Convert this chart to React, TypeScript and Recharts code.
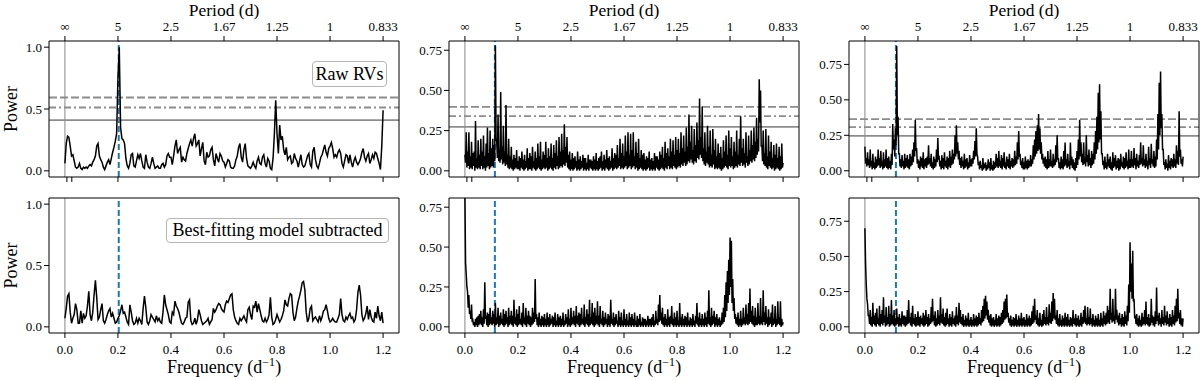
import { LineChart, Line, XAxis, YAxis, ReferenceLine } from 'recharts';

const FONT = "'Liberation Serif', 'DejaVu Serif', 'Times New Roman', serif";

// periodograms are read every 0.005 1/d from 0 to 1.2; the dense ones (middle and right)
// also get a trough value half a step after each sample
const STEP = 0.005;

// power (x100)
const rawA = [
  6, 22, 28, 27, 20, 12, 13, 8, 3, 2, 3, 6, 2, 1, 3, 2, 3, 2, 4, 5,
  4, 7, 9, 12, 20, 22, 12, 9, 7, 3, 1, 4, 7, 9, 5, 10, 15, 19, 24, 30,
  75, 100, 35, 26, 25, 22, 10, 4, 2, 6, 13, 14, 4, 3, 8, 13, 10, 14, 8, 3,
  2, 13, 7, 3, 2, 6, 11, 6, 2, 3, 4, 2, 2, 5, 6, 3, 5, 12, 14, 11,
  11, 5, 12, 20, 25, 14, 17, 19, 7, 11, 9, 8, 14, 18, 22, 25, 20, 26, 30, 20,
  22, 25, 12, 18, 23, 8, 5, 15, 11, 12, 17, 19, 9, 4, 14, 10, 7, 14, 12, 8,
  7, 3, 6, 9, 8, 3, 2, 2, 4, 9, 12, 19, 22, 11, 7, 17, 22, 10, 4, 3,
  2, 4, 7, 4, 2, 8, 11, 6, 5, 11, 13, 6, 3, 10, 8, 2, 1, 10, 30, 57,
  30, 14, 37, 25, 28, 17, 13, 19, 9, 11, 12, 6, 7, 14, 10, 8, 3, 8, 13, 5,
  3, 4, 8, 12, 14, 5, 3, 16, 19, 9, 4, 2, 6, 11, 13, 17, 21, 15, 12, 18,
  20, 23, 18, 11, 13, 11, 15, 17, 14, 6, 3, 8, 13, 12, 6, 13, 7, 3, 8, 11,
  7, 5, 7, 10, 15, 18, 11, 8, 12, 14, 6, 9, 13, 10, 15, 14, 10, 6, 1, 20,
  49,
];

const resA = [
  7, 15, 25, 27, 12, 3, 7, 10, 19, 14, 3, 3, 13, 3, 11, 7, 9, 17, 29, 10,
  5, 12, 26, 38, 24, 6, 8, 14, 19, 5, 3, 6, 10, 13, 15, 8, 11, 7, 3, 4,
  7, 9, 13, 18, 11, 12, 8, 4, 2, 18, 12, 5, 2, 3, 7, 3, 7, 5, 2, 15,
  25, 16, 4, 2, 5, 10, 8, 6, 4, 9, 5, 7, 4, 3, 12, 26, 18, 14, 10, 4,
  3, 12, 10, 21, 17, 15, 12, 7, 3, 2, 4, 7, 8, 20, 22, 5, 2, 3, 7, 2,
  6, 14, 10, 5, 2, 3, 4, 5, 7, 2, 4, 6, 15, 12, 14, 17, 19, 18, 15, 13,
  12, 18, 21, 20, 23, 26, 27, 14, 8, 5, 3, 2, 7, 5, 7, 9, 6, 4, 14, 16,
  10, 6, 17, 16, 21, 12, 19, 14, 9, 5, 4, 7, 4, 6, 10, 24, 8, 2, 3, 6,
  10, 7, 4, 6, 9, 13, 22, 18, 17, 23, 27, 26, 12, 5, 8, 15, 21, 25, 30, 36,
  37, 30, 12, 4, 7, 15, 17, 5, 7, 8, 6, 4, 9, 5, 8, 13, 14, 18, 13, 7,
  4, 5, 7, 5, 4, 4, 7, 10, 23, 10, 5, 4, 8, 6, 9, 11, 7, 8, 4, 6,
  14, 28, 34, 26, 10, 5, 7, 11, 17, 6, 14, 8, 5, 4, 12, 7, 17, 9, 5, 12,
  3,
];

const rawBHi = [
  10, 24, 12, 24, 9, 18, 11, 12, 31, 8, 19, 10, 20, 12, 22, 9, 17, 27, 11, 25,
  14, 20, 16, 78, 18, 35, 13, 49, 15, 28, 12, 41, 10, 20, 9, 15, 7, 10, 8, 13,
  6, 9, 8, 12, 7, 10, 6, 14, 8, 11, 9, 15, 6, 12, 8, 17, 9, 18, 7, 12,
  10, 18, 8, 14, 9, 17, 8, 16, 11, 19, 9, 21, 12, 23, 13, 29, 15, 21, 10, 12,
  7, 11, 8, 9, 6, 12, 7, 9, 6, 10, 8, 8, 5, 10, 7, 7, 6, 9, 7, 11,
  6, 8, 9, 12, 6, 10, 7, 13, 8, 9, 6, 14, 8, 11, 10, 16, 8, 20, 11, 17,
  9, 22, 12, 24, 10, 23, 13, 24, 9, 18, 11, 20, 8, 13, 10, 11, 7, 9, 8, 12,
  7, 8, 6, 11, 9, 9, 7, 12, 10, 15, 8, 18, 11, 14, 9, 20, 12, 19, 10, 21,
  13, 20, 11, 24, 14, 22, 12, 27, 15, 35, 18, 28, 13, 26, 16, 30, 19, 45, 21, 40,
  14, 24, 12, 28, 15, 25, 10, 26, 13, 20, 9, 17, 11, 15, 8, 19, 12, 22, 10, 25,
  14, 21, 9, 18, 12, 25, 10, 20, 34, 14, 20, 11, 24, 9, 22, 13, 25, 16, 27, 18,
  33, 20, 57, 50, 16, 25, 11, 26, 9, 22, 12, 18, 8, 16, 10, 17, 8, 15, 9, 17,
  5,
];
const rawBLo = [
  5, 2, 3, 1, 2, 1, 3, 0, 2, 1, 2, 1, 3, 1, 2, 0, 2, 3, 1, 2,
  3, 2, 6, 20, 8, 6, 5, 7, 4, 5, 3, 4, 2, 1, 2, 1, 0, 1, 2, 1,
  1, 0, 2, 1, 0, 1, 2, 0, 1, 1, 0, 2, 1, 0, 1, 2, 1, 0, 1, 2,
  1, 2, 0, 1, 2, 1, 0, 2, 1, 3, 1, 2, 3, 2, 4, 3, 5, 2, 1, 0,
  1, 0, 1, 2, 0, 1, 0, 1, 2, 0, 1, 0, 1, 0, 2, 1, 0, 1, 0, 1,
  0, 1, 2, 0, 1, 0, 2, 1, 0, 1, 2, 0, 1, 2, 1, 2, 3, 1, 2, 1,
  2, 3, 1, 2, 3, 1, 2, 3, 1, 2, 0, 1, 2, 1, 0, 1, 0, 1, 2, 0,
  1, 0, 1, 0, 2, 1, 0, 1, 2, 1, 0, 2, 1, 3, 1, 2, 1, 3, 2, 1,
  2, 3, 2, 4, 3, 5, 3, 4, 6, 5, 7, 5, 4, 6, 5, 8, 7, 10, 8, 6,
  4, 3, 5, 4, 2, 3, 2, 4, 1, 2, 1, 2, 1, 0, 1, 2, 3, 2, 1, 3,
  2, 3, 1, 2, 3, 2, 4, 3, 5, 3, 4, 2, 5, 3, 4, 6, 5, 7, 6, 8,
  10, 12, 30, 15, 6, 4, 3, 2, 1, 3, 2, 1, 2, 0, 1, 2, 1, 0, 1, 2,
];

const resBHi = [
  82, 33, 22, 20, 10, 14, 4, 3, 5, 6, 7, 8, 10, 6, 11, 28, 7, 9, 8, 12,
  6, 10, 8, 15, 6, 12, 7, 9, 5, 11, 8, 10, 6, 12, 7, 10, 7, 17, 6, 11,
  8, 13, 5, 9, 15, 6, 12, 7, 10, 7, 6, 12, 9, 30, 8, 6, 9, 5, 7, 6,
  8, 5, 9, 6, 8, 5, 7, 6, 9, 4, 8, 6, 7, 5, 9, 4, 8, 6, 11, 5,
  12, 6, 10, 7, 13, 7, 9, 8, 12, 5, 14, 6, 11, 8, 17, 6, 15, 9, 12, 7,
  16, 7, 13, 5, 10, 6, 9, 5, 8, 7, 17, 5, 9, 6, 8, 4, 10, 6, 9, 4,
  11, 5, 8, 4, 9, 6, 8, 5, 9, 4, 7, 5, 8, 3, 6, 5, 5, 4, 7, 5,
  5, 6, 8, 4, 10, 5, 14, 20, 9, 12, 6, 8, 5, 11, 6, 7, 13, 5, 9, 6,
  10, 4, 15, 6, 8, 5, 7, 6, 9, 4, 6, 5, 8, 4, 7, 15, 6, 9, 5, 8,
  5, 9, 6, 10, 23, 6, 12, 7, 10, 6, 8, 5, 6, 4, 9, 12, 20, 28, 35, 42,
  56, 54, 30, 18, 8, 6, 9, 5, 10, 5, 12, 6, 14, 8, 15, 24, 10, 13, 7, 12,
  6, 15, 7, 18, 6, 23, 9, 13, 6, 11, 6, 9, 14, 5, 13, 5, 16, 6, 16, 5,
  3,
];
const resBLo = [
  40, 25, 12, 8, 5, 3, 1, 0, 1, 0, 1, 2, 1, 0, 2, 5, 1, 0, 1, 2,
  1, 2, 0, 1, 2, 0, 1, 2, 1, 0, 1, 2, 0, 1, 2, 1, 0, 2, 1, 0,
  1, 2, 1, 0, 2, 1, 0, 2, 1, 0, 1, 2, 3, 5, 1, 0, 1, 0, 1, 0,
  1, 0, 1, 0, 1, 2, 0, 1, 0, 1, 0, 1, 0, 1, 0, 1, 2, 0, 1, 0,
  1, 2, 1, 0, 2, 1, 0, 1, 2, 1, 0, 2, 1, 0, 1, 2, 1, 0, 1, 2,
  1, 0, 2, 1, 0, 1, 2, 0, 1, 0, 2, 1, 0, 1, 2, 0, 1, 0, 1, 0,
  1, 0, 1, 0, 1, 0, 1, 0, 1, 0, 0, 1, 0, 1, 0, 1, 0, 1, 0, 1,
  0, 1, 0, 1, 2, 1, 3, 4, 2, 1, 0, 1, 0, 1, 0, 2, 1, 0, 1, 0,
  1, 0, 1, 0, 1, 0, 1, 0, 1, 0, 1, 0, 1, 0, 2, 1, 0, 1, 0, 1,
  0, 1, 0, 2, 1, 0, 1, 2, 0, 1, 0, 1, 0, 1, 2, 3, 6, 10, 15, 20,
  25, 15, 10, 5, 2, 1, 0, 1, 0, 1, 2, 1, 2, 1, 2, 3, 2, 1, 0, 1,
  1, 2, 1, 2, 1, 3, 1, 2, 0, 1, 2, 0, 1, 2, 0, 1, 2, 1, 0, 1,
];

const rawCHi = [
  17, 9, 13, 8, 15, 7, 12, 6, 10, 8, 15, 9, 14, 7, 13, 8, 15, 9, 10, 7,
  12, 33, 22, 30, 88, 38, 12, 8, 11, 7, 12, 9, 11, 8, 12, 10, 15, 20, 36, 16,
  8, 7, 10, 9, 13, 8, 9, 10, 18, 9, 12, 6, 10, 8, 15, 23, 9, 7, 11, 9,
  13, 7, 10, 9, 14, 10, 15, 12, 25, 32, 20, 14, 9, 10, 7, 12, 8, 9, 6, 11,
  8, 9, 14, 21, 30, 10, 6, 7, 4, 9, 5, 6, 4, 8, 6, 9, 4, 7, 6, 12,
  9, 14, 7, 11, 9, 13, 6, 10, 8, 12, 7, 9, 8, 14, 10, 20, 28, 12, 7, 9,
  6, 10, 7, 8, 7, 11, 8, 18, 22, 28, 32, 40, 30, 20, 12, 9, 10, 8, 14, 8,
  15, 7, 12, 8, 18, 25, 9, 6, 10, 8, 14, 20, 8, 12, 7, 20, 10, 8, 6, 9,
  14, 22, 36, 20, 12, 20, 9, 25, 11, 15, 9, 14, 12, 20, 28, 38, 55, 61, 42, 12,
  7, 10, 6, 12, 8, 10, 6, 13, 9, 11, 7, 9, 8, 12, 6, 10, 9, 13, 7, 15,
  8, 14, 8, 16, 9, 12, 7, 11, 20, 9, 18, 8, 12, 7, 17, 9, 19, 8, 14, 10,
  22, 40, 62, 70, 40, 15, 6, 8, 5, 11, 7, 9, 8, 12, 8, 18, 14, 42, 15, 8,
  10,
];
const rawCLo = [
  5, 3, 4, 2, 3, 1, 2, 1, 2, 3, 4, 2, 3, 1, 2, 3, 2, 1, 2, 1,
  4, 15, 10, 18, 25, 12, 3, 2, 3, 1, 2, 3, 2, 1, 3, 4, 6, 10, 14, 5,
  2, 1, 3, 2, 1, 3, 2, 4, 5, 3, 2, 1, 2, 3, 6, 8, 3, 1, 2, 1,
  3, 2, 1, 3, 2, 4, 5, 8, 10, 12, 8, 4, 2, 3, 1, 2, 3, 1, 2, 3,
  3, 5, 8, 10, 12, 4, 1, 2, 0, 1, 2, 0, 1, 2, 0, 1, 0, 1, 2, 3,
  2, 3, 2, 1, 3, 2, 1, 3, 2, 1, 3, 2, 3, 4, 5, 8, 10, 4, 2, 1,
  1, 2, 1, 2, 3, 3, 5, 8, 10, 12, 14, 15, 12, 8, 5, 3, 2, 1, 2, 3,
  3, 2, 3, 4, 6, 8, 2, 1, 2, 1, 3, 4, 2, 3, 1, 4, 2, 1, 0, 2,
  4, 8, 10, 6, 4, 5, 3, 6, 3, 4, 2, 4, 5, 8, 12, 15, 20, 22, 12, 4,
  1, 2, 1, 3, 2, 1, 0, 2, 3, 1, 2, 0, 1, 3, 2, 1, 2, 3, 1, 2,
  2, 3, 2, 4, 1, 3, 2, 4, 5, 3, 4, 2, 3, 1, 4, 2, 5, 3, 2, 3,
  8, 15, 25, 30, 15, 4, 1, 2, 0, 2, 1, 3, 2, 3, 2, 5, 4, 10, 5, 3,
];

const resCHi = [
  70, 30, 16, 8, 12, 7, 17, 8, 10, 13, 6, 15, 9, 12, 21, 8, 14, 7, 15, 9,
  19, 8, 12, 6, 13, 7, 9, 6, 11, 8, 8, 7, 12, 19, 7, 10, 15, 6, 9, 7,
  11, 7, 8, 6, 10, 8, 12, 7, 9, 6, 14, 20, 8, 11, 6, 12, 8, 21, 9, 13,
  7, 10, 13, 6, 9, 7, 11, 6, 8, 14, 8, 17, 12, 7, 9, 5, 8, 6, 10, 5,
  7, 5, 9, 6, 8, 7, 10, 6, 12, 15, 20, 22, 18, 12, 8, 9, 6, 7, 5, 9,
  6, 8, 7, 10, 12, 18, 20, 23, 10, 6, 8, 5, 7, 6, 9, 5, 8, 6, 10, 6,
  7, 5, 9, 6, 8, 6, 11, 15, 20, 8, 12, 6, 10, 5, 9, 12, 7, 14, 7, 16,
  10, 18, 24, 20, 8, 12, 6, 9, 5, 8, 6, 10, 7, 9, 5, 7, 6, 12, 6, 9,
  6, 8, 5, 10, 7, 12, 15, 6, 14, 7, 13, 6, 9, 5, 8, 6, 9, 5, 10, 6,
  11, 8, 10, 15, 12, 27, 10, 20, 8, 27, 12, 8, 10, 6, 9, 7, 11, 8, 15, 30,
  60, 45, 54, 20, 8, 9, 6, 8, 5, 10, 7, 12, 18, 7, 9, 6, 20, 8, 7, 11,
  28, 8, 10, 6, 12, 7, 15, 8, 11, 6, 9, 7, 12, 8, 15, 20, 27, 10, 12, 6,
  6,
];
const resCLo = [
  45, 20, 8, 2, 1, 0, 2, 1, 0, 2, 1, 0, 2, 1, 3, 0, 1, 2, 0, 1,
  2, 1, 0, 1, 2, 0, 1, 0, 2, 1, 0, 1, 2, 3, 1, 0, 2, 1, 0, 1,
  1, 0, 2, 1, 0, 1, 2, 0, 1, 2, 3, 4, 1, 0, 1, 2, 1, 3, 2, 1,
  0, 1, 2, 0, 1, 0, 2, 1, 0, 2, 1, 3, 2, 1, 0, 1, 0, 1, 0, 1,
  0, 1, 0, 1, 0, 1, 2, 1, 3, 4, 6, 8, 5, 3, 1, 0, 1, 0, 1, 0,
  1, 0, 1, 2, 3, 5, 6, 7, 3, 1, 0, 1, 0, 1, 0, 1, 0, 1, 0, 1,
  0, 1, 0, 1, 0, 1, 2, 3, 5, 2, 1, 0, 1, 0, 1, 2, 1, 2, 1, 3,
  2, 4, 6, 5, 2, 1, 0, 1, 0, 1, 0, 1, 0, 1, 0, 1, 0, 2, 1, 0,
  1, 0, 1, 0, 2, 3, 2, 1, 2, 1, 2, 0, 1, 0, 1, 0, 1, 0, 1, 0,
  2, 1, 2, 3, 2, 5, 3, 4, 2, 5, 3, 1, 2, 0, 1, 0, 2, 1, 4, 10,
  25, 20, 18, 6, 2, 1, 0, 1, 0, 1, 2, 1, 2, 1, 0, 1, 3, 1, 0, 2,
  4, 1, 2, 0, 2, 1, 3, 1, 2, 0, 1, 0, 2, 1, 3, 4, 6, 2, 1, 0,
];

// false-alarm levels (dashed, dash-dot, solid) for the raw periodograms
const fapA = [0.593, 0.512, 0.41];
const fapB = [0.398, 0.34, 0.273];
const fapC = [0.364, 0.307, 0.246];

// planet frequency marked by the blue dashed line
const planetFreq = [0.203, 0.113, 0.117];

const freqTicks = [0, 0.2, 0.4, 0.6, 0.8, 1.0, 1.2];
const freqLabels = ['0.0', '0.2', '0.4', '0.6', '0.8', '1.0', '1.2'];
const periodLabels = ['\u221e', '5', '2.5', '1.67', '1.25', '1', '0.833'];
const upperBottomTicks = [0.0075, 0.026, 0.2, 0.4, 0.6, 0.8, 1.0, 1.2];

const yTicksA = [0, 0.5, 1.0];
const yLabelsA = ['0.0', '0.5', '1.0'];
const yTicksBC = [0, 0.25, 0.5, 0.75];
const yLabelsBC = ['0.00', '0.25', '0.50', '0.75'];

type Pt = { f: number; p: number };

// samples on the 0.005 grid, with the troughs (if any) placed half a step after each sample
function toData(hi: number[], lo?: number[]): Pt[] {
  const out: Pt[] = [];
  hi.forEach((v, i) => {
    out.push({ f: +(i * STEP).toFixed(5), p: v / 100 });
    if (lo && i < lo.length) out.push({ f: +((i + 0.5) * STEP).toFixed(5), p: lo[i] / 100 });
  });
  return out;
}

const columns = [
  { raw: toData(rawA), res: toData(resA), dense: false, fap: fapA, planet: planetFreq[0], yDomain: [-0.05, 1.05], yTicks: yTicksA, yLabels: yLabelsA },
  { raw: toData(rawBHi, rawBLo), res: toData(resBHi, resBLo), dense: true, fap: fapB, planet: planetFreq[1], yDomain: [-0.0385, 0.8075], yTicks: yTicksBC, yLabels: yLabelsBC },
  { raw: toData(rawCHi, rawCLo), res: toData(resCHi, resCLo), dense: true, fap: fapC, planet: planetFreq[2], yDomain: [-0.044, 0.915], yTicks: yTicksBC, yLabels: yLabelsBC },
];

const X_DOMAIN = [-0.06, 1.26];
const tickStyle = { fill: '#000', fontSize: 13, fontFamily: FONT };

const PowerTitle = (props: any) => {
  const vb = props.viewBox;
  const cx = vb.x + 17;
  const cy = vb.y + vb.height / 2;
  return (
    <text x={cx} y={cy} transform={`rotate(-90 ${cx} ${cy})`} textAnchor="middle" fontFamily={FONT} fontSize={18} fill="#000">
      Power
    </text>
  );
};

const PeriodTitle = (props: any) => {
  const vb = props.viewBox;
  return (
    <text x={vb.x + vb.width / 2} y={vb.y + 15.5} textAnchor="middle" fontFamily={FONT} fontSize={17.5} fill="#000">
      Period (d)
    </text>
  );
};

const FreqTitle = (props: any) => {
  const vb = props.viewBox;
  return (
    <text x={vb.x + vb.width / 2} y={vb.y + 40} textAnchor="middle" fontFamily={FONT} fontSize={18} fill="#000">
      <tspan>Frequency (d</tspan>
      <tspan dy={-7} fontSize={12}>{'\u22121'}</tspan>
      <tspan dy={7}>)</tspan>
    </text>
  );
};

function Panel({ col, upper, first }: { col: (typeof columns)[number]; upper: boolean; first: boolean }) {
  const data = upper ? col.raw : col.res;
  const fmtY = (v: number) => col.yLabels[col.yTicks.indexOf(v)] ?? '';
  return (
    <LineChart width={400} height={190} data={data} margin={{ top: 0, right: 0, bottom: 0, left: 0 }}>
      <XAxis
        dataKey="f"
        type="number"
        domain={X_DOMAIN}
        allowDataOverflow
        ticks={upper ? upperBottomTicks : freqTicks}
        interval={0}
        tickFormatter={(v: number) => (upper ? '' : freqLabels[freqTicks.indexOf(v)] ?? '')}
        height={upper ? 13 : 47}
        stroke="#000"
        tickSize={5}
        tickMargin={7}
        tick={tickStyle}
        label={upper ? undefined : <FreqTitle />}
      />
      <XAxis
        xAxisId="top"
        orientation="top"
        dataKey="f"
        type="number"
        domain={X_DOMAIN}
        allowDataOverflow
        ticks={freqTicks}
        interval={0}
        tickFormatter={(v: number) => periodLabels[freqTicks.indexOf(v)] ?? ''}
        height={upper ? 41 : 8}
        stroke="#000"
        tickSize={5}
        tickMargin={5}
        tick={upper ? tickStyle : false}
        tickLine={upper}
        label={upper ? <PeriodTitle /> : undefined}
      />
      <YAxis
        type="number"
        domain={col.yDomain}
        allowDataOverflow
        ticks={col.yTicks}
        interval={0}
        tickFormatter={fmtY}
        width={49}
        stroke="#000"
        tickSize={5}
        tickMargin={2}
        tick={tickStyle}
        label={first ? <PowerTitle /> : undefined}
      />
      <YAxis yAxisId="right" orientation="right" type="number" domain={col.yDomain} width={1} stroke="#000" tick={false} tickLine={false} />
      <ReferenceLine x={0} stroke="#9a9a9a" strokeWidth={1.2} />
      <ReferenceLine x={col.planet} stroke="#1f77b4" strokeWidth={2} strokeDasharray="6 3" />
      {upper && <ReferenceLine y={col.fap[0]} stroke="#8c8c8c" strokeWidth={1.8} strokeDasharray="8 3" />}
      {upper && <ReferenceLine y={col.fap[1]} stroke="#8c8c8c" strokeWidth={1.8} strokeDasharray="7 3 2 3" />}
      {upper && <ReferenceLine y={col.fap[2]} stroke="#8c8c8c" strokeWidth={1.8} />}
      <Line type="linear" dataKey="p" stroke="#000" strokeWidth={1.5} dot={false} activeDot={false} isAnimationActive={false} />
    </LineChart>
  );
}

const boxStyle: React.CSSProperties = {
  position: 'absolute',
  boxSizing: 'border-box',
  border: '1px solid #b5b5b5',
  borderRadius: 4,
  background: '#fff',
  fontFamily: FONT,
  fontSize: 18,
  color: '#000',
  display: 'flex',
  alignItems: 'center',
  justifyContent: 'center',
  whiteSpace: 'nowrap',
};

export default function App() {
  return (
    <div style={{ position: 'absolute', left: 0, top: 0, width: 1200, height: 380, background: '#fff', overflow: 'hidden' }}>
      {columns.map((col, i) => (
        <div key={`u${i}`} style={{ position: 'absolute', left: i * 400, top: 0 }}>
          <Panel col={col} upper first={i === 0} />
        </div>
      ))}
      {columns.map((col, i) => (
        <div key={`l${i}`} style={{ position: 'absolute', left: i * 400, top: 190 }}>
          <Panel col={col} upper={false} first={i === 0} />
        </div>
      ))}
      <div style={{ ...boxStyle, left: 312, top: 61, width: 75, height: 26 }}>Raw RVs</div>
      <div style={{ ...boxStyle, left: 166, top: 218, width: 223, height: 25 }}>Best-fitting model subtracted</div>
    </div>
  );
}
